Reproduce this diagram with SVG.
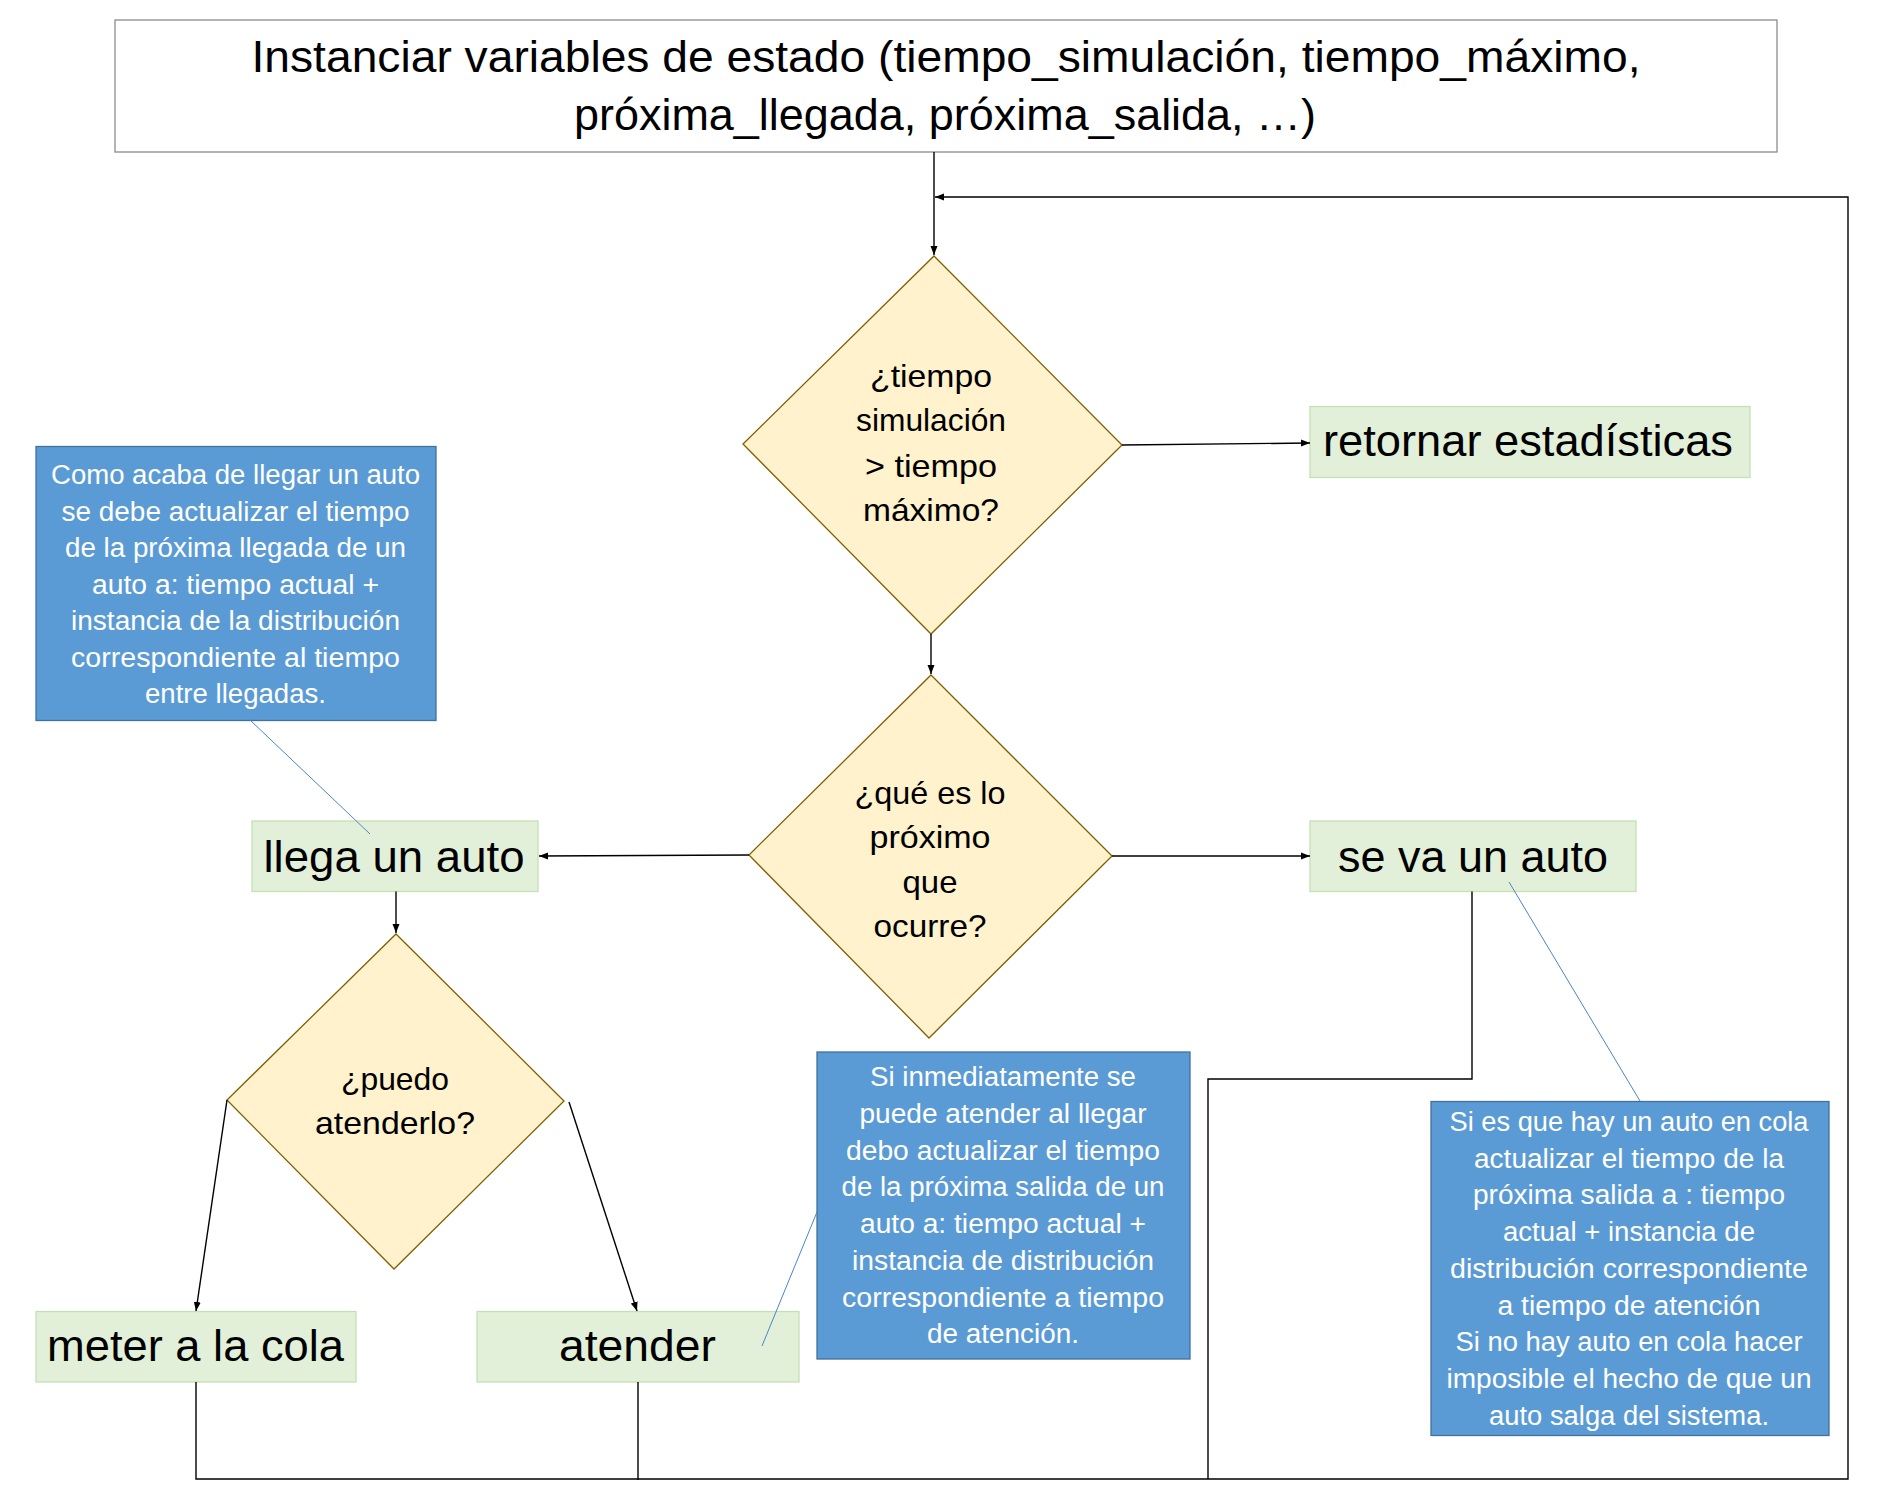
<svg xmlns="http://www.w3.org/2000/svg" width="1890" height="1512" viewBox="0 0 1890 1512">
<style>
  text { font-family: "Liberation Sans", Arial, sans-serif; text-anchor: middle; }
  .title { font-size: 44px; fill: #000; }
  .dia { fill: #FFF2CC; stroke: #7F6000; stroke-width: 1.3; }
  .dt { font-size: 32px; fill: #000; }
  .box { fill: #E2F0D9; stroke: #C5E0B4; stroke-width: 1.3; }
  .bt { font-size: 44px; fill: #000; }
  .note { fill: #5B9BD5; stroke: #41719C; stroke-width: 1.3; }
  .nt { font-size: 27px; fill: #FFFFFF; }
  .conn { fill: none; stroke: #000; stroke-width: 1.4; }
  .call { fill: none; stroke: #4A86C5; stroke-width: 1; }
</style>
<defs>
  <marker id="arr" markerUnits="userSpaceOnUse" markerWidth="10" markerHeight="8" refX="9" refY="4" orient="auto">
    <path d="M0,0.5 L9,4 L0,7.5 z" fill="#000"/>
  </marker>
</defs>
<rect width="1890" height="1512" fill="#FFFFFF"/>

<g id="n-init">
  <rect x="115" y="20" width="1662" height="132" fill="#FFFFFF" stroke="#8C8C8C" stroke-width="1.3"/>
  <text class="title" x="946" y="72" textLength="1389" lengthAdjust="spacingAndGlyphs">Instanciar variables de estado (tiempo_simulación, tiempo_máximo,</text>
  <text class="title" x="945" y="130" textLength="742" lengthAdjust="spacingAndGlyphs">próxima_llegada, próxima_salida, …)</text>
</g>

<g id="n-d1">
  <polygon class="dia" points="934,256 1122,445 931,634 743,444"/>
  <text class="dt" x="931" y="387" textLength="122" lengthAdjust="spacingAndGlyphs">¿tiempo</text>
  <text class="dt" x="931" y="431" textLength="150" lengthAdjust="spacingAndGlyphs">simulación</text>
  <text class="dt" x="931" y="477" textLength="132" lengthAdjust="spacingAndGlyphs">&gt; tiempo</text>
  <text class="dt" x="931" y="521" textLength="136" lengthAdjust="spacingAndGlyphs">máximo?</text>
</g>

<g id="n-ret">
  <rect class="box" x="1310" y="406.5" width="440" height="71"/>
  <text class="bt" x="1528" y="456" textLength="410" lengthAdjust="spacingAndGlyphs">retornar estadísticas</text>
</g>

<g id="n-d2">
  <polygon class="dia" points="931,675 1112,856 929,1038 749,855"/>
  <text class="dt" x="930" y="804" textLength="151" lengthAdjust="spacingAndGlyphs">¿qué es lo</text>
  <text class="dt" x="930" y="848" textLength="121" lengthAdjust="spacingAndGlyphs">próximo</text>
  <text class="dt" x="930" y="893" textLength="55" lengthAdjust="spacingAndGlyphs">que</text>
  <text class="dt" x="930" y="937" textLength="113" lengthAdjust="spacingAndGlyphs">ocurre?</text>
</g>

<g id="n-llega">
  <rect class="box" x="252" y="821" width="286" height="70.5"/>
  <text class="bt" x="394" y="872" textLength="261" lengthAdjust="spacingAndGlyphs">llega un auto</text>
</g>

<g id="n-seva">
  <rect class="box" x="1310" y="821" width="326" height="70.5"/>
  <text class="bt" x="1473" y="872" textLength="270" lengthAdjust="spacingAndGlyphs">se va un auto</text>
</g>

<g id="n-d3">
  <polygon class="dia" points="396,934 564,1101 394,1269 227,1100"/>
  <text class="dt" x="395" y="1090" textLength="108" lengthAdjust="spacingAndGlyphs">¿puedo</text>
  <text class="dt" x="395" y="1134" textLength="160" lengthAdjust="spacingAndGlyphs">atenderlo?</text>
</g>

<g id="n-meter">
  <rect class="box" x="36" y="1311.5" width="320" height="70.5"/>
  <text class="bt" x="195.5" y="1361" textLength="297" lengthAdjust="spacingAndGlyphs">meter a la cola</text>
</g>

<g id="n-atender">
  <rect class="box" x="477" y="1311.5" width="322" height="70.5"/>
  <text class="bt" x="637.5" y="1361" textLength="157" lengthAdjust="spacingAndGlyphs">atender</text>
</g>

<g id="n-note1">
  <rect class="note" x="36" y="446.5" width="400" height="274"/>
  <text class="nt" x="235.5" y="483.5" textLength="369" lengthAdjust="spacingAndGlyphs">Como acaba de llegar un auto</text>
  <text class="nt" x="235.5" y="520.5" textLength="348" lengthAdjust="spacingAndGlyphs">se debe actualizar el tiempo</text>
  <text class="nt" x="235.5" y="557" textLength="341" lengthAdjust="spacingAndGlyphs">de la próxima llegada de un</text>
  <text class="nt" x="235.5" y="593.5" textLength="287" lengthAdjust="spacingAndGlyphs">auto a: tiempo actual +</text>
  <text class="nt" x="235.5" y="630" textLength="329" lengthAdjust="spacingAndGlyphs">instancia de la distribución</text>
  <text class="nt" x="235.5" y="667" textLength="329" lengthAdjust="spacingAndGlyphs">correspondiente al tiempo</text>
  <text class="nt" x="235.5" y="703" textLength="181" lengthAdjust="spacingAndGlyphs">entre llegadas.</text>
</g>

<g id="n-note2">
  <rect class="note" x="817" y="1052" width="373" height="307"/>
  <text class="nt" x="1003" y="1086" textLength="266" lengthAdjust="spacingAndGlyphs">Si inmediatamente se</text>
  <text class="nt" x="1003" y="1123" textLength="287" lengthAdjust="spacingAndGlyphs">puede atender al llegar</text>
  <text class="nt" x="1003" y="1160" textLength="314" lengthAdjust="spacingAndGlyphs">debo actualizar el tiempo</text>
  <text class="nt" x="1003" y="1196" textLength="323" lengthAdjust="spacingAndGlyphs">de la próxima salida de un</text>
  <text class="nt" x="1003" y="1233" textLength="286" lengthAdjust="spacingAndGlyphs">auto a: tiempo actual +</text>
  <text class="nt" x="1003" y="1270" textLength="302" lengthAdjust="spacingAndGlyphs">instancia de distribución</text>
  <text class="nt" x="1003" y="1307" textLength="322" lengthAdjust="spacingAndGlyphs">correspondiente a tiempo</text>
  <text class="nt" x="1003" y="1343" textLength="152" lengthAdjust="spacingAndGlyphs">de atención.</text>
</g>

<g id="n-note3">
  <rect class="note" x="1431" y="1101.5" width="398" height="334"/>
  <text class="nt" x="1629" y="1131" textLength="359" lengthAdjust="spacingAndGlyphs">Si es que hay un auto en cola</text>
  <text class="nt" x="1629" y="1168" textLength="310" lengthAdjust="spacingAndGlyphs">actualizar el tiempo de la</text>
  <text class="nt" x="1629" y="1204" textLength="312" lengthAdjust="spacingAndGlyphs">próxima salida a : tiempo</text>
  <text class="nt" x="1629" y="1241" textLength="252" lengthAdjust="spacingAndGlyphs">actual + instancia de</text>
  <text class="nt" x="1629" y="1278" textLength="358" lengthAdjust="spacingAndGlyphs">distribución correspondiente</text>
  <text class="nt" x="1629" y="1315" textLength="263" lengthAdjust="spacingAndGlyphs">a tiempo de atención</text>
  <text class="nt" x="1629" y="1351" textLength="347" lengthAdjust="spacingAndGlyphs">Si no hay auto en cola hacer</text>
  <text class="nt" x="1629" y="1388" textLength="365" lengthAdjust="spacingAndGlyphs">imposible el hecho de que un</text>
  <text class="nt" x="1629" y="1425" textLength="280" lengthAdjust="spacingAndGlyphs">auto salga del sistema.</text>
</g>

<g id="connectors">
  <path class="conn" d="M934,152 V255" marker-end="url(#arr)"/>
  <path class="conn" d="M196,1382 V1479 H1848 V197 H935" marker-end="url(#arr)"/>
  <path class="conn" d="M638,1382 V1480"/>
  <path class="conn" d="M1472,891.5 V1079 H1208 V1479"/>
  <path class="conn" d="M1122,445 L1310,443" marker-end="url(#arr)"/>
  <path class="conn" d="M931,634 V674" marker-end="url(#arr)"/>
  <path class="conn" d="M749,855 L539,856" marker-end="url(#arr)"/>
  <path class="conn" d="M1112,856 L1310,856" marker-end="url(#arr)"/>
  <path class="conn" d="M396,891.5 V933" marker-end="url(#arr)"/>
  <path class="conn" d="M227,1100 L196,1311" marker-end="url(#arr)"/>
  <path class="conn" d="M569,1102 L637,1311" marker-end="url(#arr)"/>
  <path class="call" d="M250,720 L370,834"/>
  <path class="call" d="M817,1212 L762,1346"/>
  <path class="call" d="M1509,882 L1640,1101"/>
</g>
</svg>
